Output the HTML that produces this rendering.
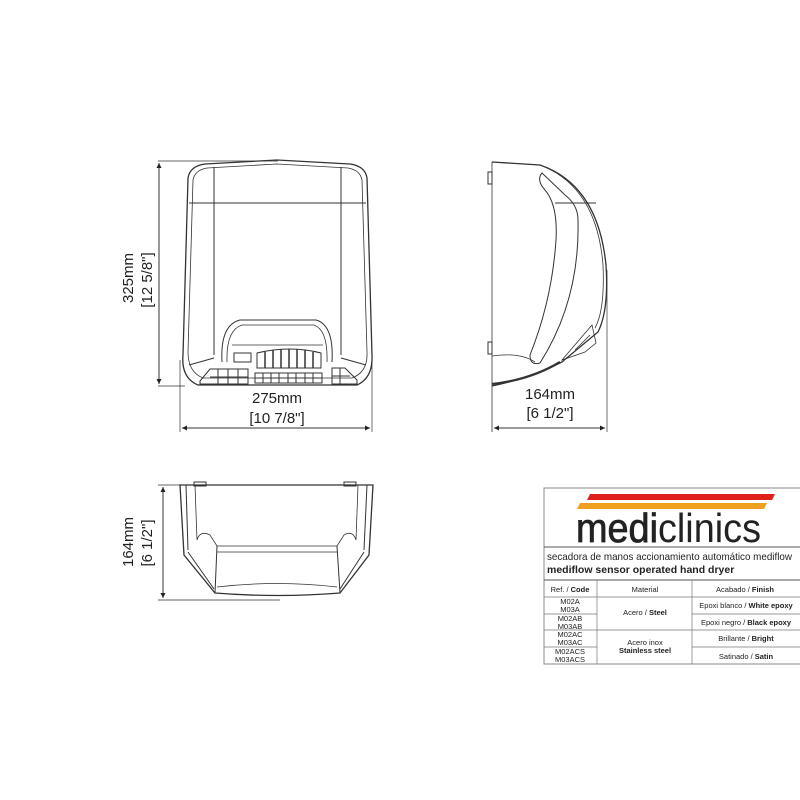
<!DOCTYPE html>
<html><head><meta charset="utf-8"><style>
html,body{margin:0;padding:0;background:#fff;}
svg{display:block;}
text{font-family:"Liberation Sans",sans-serif;fill:#222;}
</style></head><body>
<svg width="800" height="800" viewBox="0 0 800 800" xmlns="http://www.w3.org/2000/svg">
<defs>
<marker id="a" viewBox="0 0 10 10" refX="10" refY="5" markerWidth="9" markerHeight="5" orient="auto-start-reverse"><path d="M0,0 L10,5 L0,10 Z" fill="#222"/></marker>
</defs>
<g fill="none" stroke="#333" stroke-width="1">
<line x1="158" y1="161" x2="278" y2="161" stroke-width="0.7"/>
<line x1="158" y1="386" x2="185" y2="386" stroke-width="0.7"/>
<line x1="159" y1="163" x2="159" y2="384" marker-start="url(#a)" marker-end="url(#a)"/>
<line x1="180" y1="360" x2="180" y2="432" stroke-width="0.7"/>
<line x1="372" y1="360" x2="372" y2="432" stroke-width="0.7"/>
<line x1="182" y1="428" x2="370" y2="428" marker-start="url(#a)" marker-end="url(#a)"/>
<path d="M188,178 Q190,166 205,164 L277,160 L350,164 Q365,166 367,178 L372,355 Q373,378 357,385 L198,385 Q181,378 183,355 Z" stroke-width="1.3"/>
<path d="M193,180 Q195,170 207,168 L277,164 L348,168 Q360,170 362,180 L367,352 Q368,372 352,378 L203,378 Q188,372 188,352 Z" stroke-width="0.8"/>
<line x1="214" y1="167" x2="214" y2="355"/>
<line x1="341" y1="167" x2="341" y2="355"/>
<line x1="189" y1="203" x2="366" y2="203"/>
<path d="M189,365 L214,358 M366,365 L341,358"/>
<path d="M222,362 Q220,325 240,320 L316,320 Q334,325 332,362" stroke-width="1"/>
<path d="M227,362 Q226,330 242,325 L314,325 Q328,330 327,362" stroke-width="0.8"/>
<line x1="232" y1="345" x2="323" y2="345" stroke-width="0.7"/>
<rect x="234" y="353" width="17" height="9"/>
<path d="M257,353 Q290,345 321,353 L321,368 L257,368 Z"/>
<path d="M265,352 V368 M273,350 V368 M281,349 V368 M289,349 V368 M297,349 V368 M305,350 V368 M313,352 V368" stroke-width="1.5"/>
<rect x="255" y="373" width="67" height="10"/>
<path d="M263,373V383 M271,373V383 M279,373V383 M288,373V383 M296,373V383 M305,373V383 M313,373V383 M255,378H322"/>
<path d="M200,381 L210,369 L248,369 L248,384 L200,384 Z"/>
<path d="M218,369V384 M228,369V384 M238,369V384 M210,377H248"/>
<path d="M332,368 L345,368 L357,380 L357,384 L332,384 Z M340,368V384 M332,376H350"/>
<line x1="492" y1="162" x2="492" y2="432" stroke-width="0.8"/>
<line x1="607" y1="270" x2="607" y2="432" stroke-width="0.7"/>
<line x1="494" y1="428" x2="605" y2="428" marker-start="url(#a)" marker-end="url(#a)"/>
<rect x="488" y="172" width="4" height="12"/>
<rect x="488" y="342" width="4" height="12"/>
<path d="M492,162 L540,165 Q598,185 606,265 Q609,310 598,332 L562,362 Q530,378 492,386" stroke-width="1.3"/>
<path d="M545,167 Q597,190 603,265 Q605,310 595,328" stroke-width="0.8"/>
<path d="M542,173 Q536,180 545,190 Q558,205 556,240 Q552,300 530,355 Q530,366 540,363 Q580,300 578,220 Q578,205 565,195 Z" stroke-width="1"/>
<line x1="555" y1="203" x2="596" y2="203"/>
<path d="M492,356 Q520,352 535,362" stroke-width="0.8"/>
<path d="M492,384 Q530,380 560,362" stroke-width="2.2"/>
<path d="M562,360 L592,325 L596,343 L585,352 Z M575,350 L590,335" stroke-width="0.8"/>
<line x1="158" y1="485" x2="185" y2="485" stroke-width="0.7"/>
<line x1="158" y1="600" x2="280" y2="600" stroke-width="0.7"/>
<line x1="163" y1="487" x2="163" y2="598" marker-start="url(#a)" marker-end="url(#a)"/>
<path d="M180,485 L373,485 L369,555 L340,593 Q277,598 215,593 L184,555 Z" stroke-width="1.3"/>
<path d="M186,485 L188,550 M367,485 L364,550"/>
<path d="M195,485 L197,540 Q200,530 210,535 L217,546 L337,546 L344,535 Q353,530 356,540 L358,485" stroke-width="0.8"/>
<path d="M188,552 L214,589 M364,552 L340,589 M217,546 L215,593 M337,546 L340,593"/>
<path d="M217,552 L337,552 M217,587 Q277,580 337,587" stroke-width="0.8"/>
<rect x="194" y="482" width="12" height="4"/>
<rect x="344" y="482" width="12" height="4"/>
<rect x="544" y="488" width="260" height="176" stroke="#888"/>
<line x1="544" y1="547" x2="800" y2="547" stroke="#555"/>
<line x1="544" y1="580" x2="800" y2="580" stroke="#555"/>
<line x1="544" y1="597" x2="800" y2="597" stroke="#777" stroke-width="0.7"/>
<line x1="544" y1="630" x2="800" y2="630" stroke="#777" stroke-width="0.7"/>
<line x1="544" y1="614" x2="597" y2="614" stroke="#777" stroke-width="0.7"/>
<line x1="544" y1="647" x2="597" y2="647" stroke="#777" stroke-width="0.7"/>
<line x1="692" y1="614" x2="800" y2="614" stroke="#777" stroke-width="0.7"/>
<line x1="692" y1="647" x2="800" y2="647" stroke="#777" stroke-width="0.7"/>
<line x1="597" y1="580" x2="597" y2="664" stroke="#777" stroke-width="0.7"/>
<line x1="692" y1="580" x2="692" y2="664" stroke="#777" stroke-width="0.7"/>
</g>
<polygon points="590,494 775,494 772,500 587,500" fill="#e0201b"/>
<polygon points="580,503 767,503 764,509 577,509" fill="#f0a020"/>
<text x="576" y="542" font-size="41" style="fill:#222" textLength="185" lengthAdjust="spacingAndGlyphs"><tspan stroke="#222" stroke-width="0.8">medi</tspan>clinics</text>
<text x="547" y="560" font-size="10.5" textLength="245" lengthAdjust="spacingAndGlyphs">secadora de manos accionamiento automático mediflow</text>
<text x="547" y="573" font-size="10.5" font-weight="bold">mediflow sensor operated hand dryer</text>
<g font-size="7.5" text-anchor="middle">
<text x="570" y="592">Ref. / <tspan font-weight="bold">Code</tspan></text>
<text x="645" y="592">Material</text>
<text x="745" y="592">Acabado / <tspan font-weight="bold">Finish</tspan></text>
<text x="570" y="604">M02A</text><text x="570" y="612">M03A</text>
<text x="570" y="621">M02AB</text><text x="570" y="629">M03AB</text>
<text x="570" y="637">M02AC</text><text x="570" y="645">M03AC</text>
<text x="570" y="654">M02ACS</text><text x="570" y="662">M03ACS</text>
<text x="645" y="615">Acero / <tspan font-weight="bold">Steel</tspan></text>
<text x="645" y="645">Acero inox</text>
<text x="645" y="653" font-weight="bold">Stainless steel</text>
<text x="746" y="608">Epoxi blanco / <tspan font-weight="bold">White epoxy</tspan></text>
<text x="746" y="625">Epoxi negro / <tspan font-weight="bold">Black epoxy</tspan></text>
<text x="746" y="641">Brillante / <tspan font-weight="bold">Bright</tspan></text>
<text x="746" y="659">Satinado / <tspan font-weight="bold">Satin</tspan></text>
</g>
<g font-size="15" text-anchor="middle" style="fill:#333">
<text x="277" y="403">275mm</text>
<text x="277" y="423">[10 7/8"]</text>
<text x="550" y="399">164mm</text>
<text x="550" y="418">[6 1/2"]</text>
<text transform="translate(133,278) rotate(-90)">325mm</text>
<text transform="translate(152,280) rotate(-90)">[12 5/8"]</text>
<text transform="translate(133,542) rotate(-90)">164mm</text>
<text transform="translate(152,543) rotate(-90)">[6 1/2"]</text>
</g>
</svg>
</body></html>
